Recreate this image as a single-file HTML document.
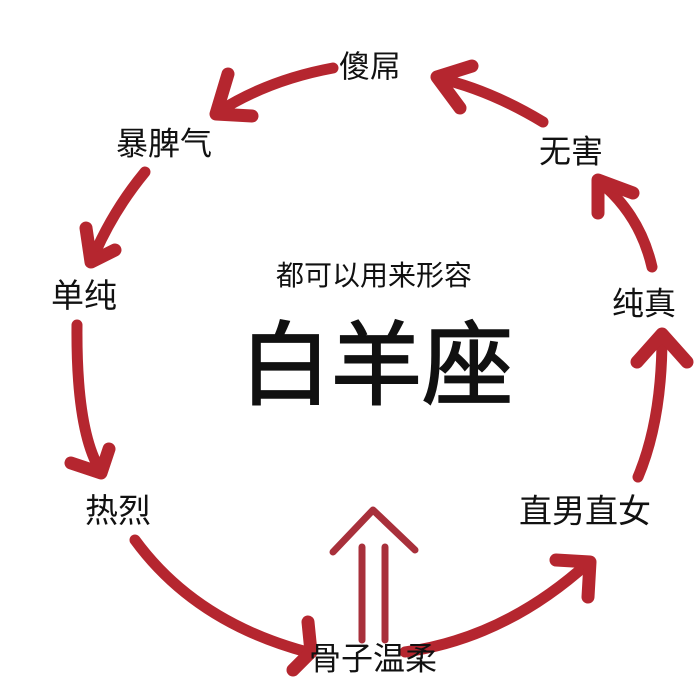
<!DOCTYPE html>
<html>
<head>
<meta charset="utf-8">
<style>
  html, body { margin:0; padding:0; background:#ffffff; }
  body { width:700px; height:700px; overflow:hidden; }
  svg { display:block; }
  text { font-family: "Liberation Sans", "Noto Sans CJK SC", "WenQuanYi Zen Hei", sans-serif; fill:#111; }
</style>
</head>
<body>
<svg width="700" height="700" viewBox="0 0 700 700" xmlns="http://www.w3.org/2000/svg">
  <rect width="700" height="700" fill="#ffffff"/>
  <g fill="none" stroke="#b5262f" stroke-linecap="round" stroke-linejoin="round">
    <!-- 1 傻屌 -> 暴脾气 -->
    <path d="M333,68 Q268,80 218,112" stroke-width="11"/>
    <polyline points="228,74 216,114 252,116" stroke-width="13"/>
    <!-- 2 暴脾气 -> 单纯 -->
    <path d="M145,172 Q112,212 92,260" stroke-width="11"/>
    <polyline points="86,228 91,262 115,250" stroke-width="13"/>
    <!-- 3 单纯 -> 热烈 -->
    <path d="M77,325 Q76,430 100,470" stroke-width="11"/>
    <polyline points="71,463 101,473 109,449" stroke-width="13"/>
    <!-- 4 热烈 -> 骨子温柔 -->
    <path d="M135,540 Q195,622 307,652" stroke-width="11"/>
    <polyline points="308,622 311,652 293,670" stroke-width="13"/>
    <!-- 5 骨子温柔 -> 直男直女 -->
    <path d="M405,652 Q505,638 588,563" stroke-width="11"/>
    <polyline points="556,560 590,562 588,597" stroke-width="13"/>
    <!-- 6 直男直女 -> 纯真 -->
    <path d="M638,477 Q662,420 662,337" stroke-width="11"/>
    <polyline points="637,362 662,334 687,362" stroke-width="13"/>
    <!-- 7 纯真 -> 无害 -->
    <path d="M652,267 Q640,215 600,182" stroke-width="11"/>
    <polyline points="598,213 598,180 633,193" stroke-width="13"/>
    <!-- 8 无害 -> 傻屌 -->
    <path d="M543,122 Q490,90 438,78" stroke-width="11"/>
    <polyline points="460,108 437,77 472,66" stroke-width="13"/>
  </g>
  <!-- center double arrow -->
  <g fill="none" stroke="#a8303b" stroke-linecap="round" stroke-linejoin="round" stroke-width="7">
    <line x1="362" y1="547" x2="362" y2="640"/>
    <line x1="385" y1="547" x2="385" y2="640"/>
    <polyline points="333,552 373,510 415,550"/>
  </g>

  <text x="339" y="77.5" font-size="31">傻屌</text>
  <text x="116" y="154.5" font-size="32">暴脾气</text>
  <text x="51" y="307" font-size="33">单纯</text>
  <text x="85" y="522" font-size="33">热烈</text>
  <text x="309" y="669.5" font-size="32">骨子温柔</text>
  <text x="519" y="522.5" font-size="33">直男直女</text>
  <text x="612" y="314.5" font-size="32">纯真</text>
  <text x="539" y="162.5" font-size="32">无害</text>
  <text x="276" y="285" font-size="28">都可以用来形容</text>
  <text x="240" y="397" font-size="91" stroke="#111" stroke-width="1.8" stroke-linejoin="miter">白羊座</text>
</svg>
</body>
</html>
